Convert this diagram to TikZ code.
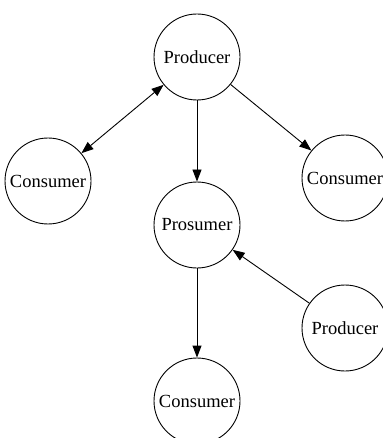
\documentclass[tikz,border=0pt]{standalone}
\usepackage{fontspec}
\setmainfont{Liberation Serif}
\usetikzlibrary{positioning, arrows.meta}

\begin{document}
\begin{tikzpicture}[x=1pt, y=1pt, on grid, >={Triangle[length=12pt, width=9pt]},
  agent/.style={circle, draw, line width=0.9pt, minimum size=86pt, inner sep=0pt,
    font=\fontsize{18.5}{20}\selectfont}]
  \useasboundingbox (0,0) rectangle (382,-438);
  \node[agent] (prod) at (197,-57) {Producer};
  \node[agent] (cons1) [below left=124pt and 149pt of prod] {Consumer};
  \node[agent] (cons2) [below right=121pt and 148pt of prod] {Consumer};
  \node[agent] (pros) [below=168pt of prod] {Prosumer};
  \node[agent] (prod2) [below right=103pt and 148pt of pros] {Producer};
  \node[agent] (cons3) [below=176pt of pros] {Consumer};

  \path[->, line width=0.9pt]
  (prod) edge [<->] (cons1)
  (prod) edge (pros)
  (prod) edge (cons2)
  (prod2) edge (pros)
  (pros) edge (cons3)
  ;
\end{tikzpicture}
\end{document}
